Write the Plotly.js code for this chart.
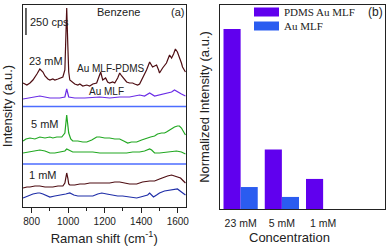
<!DOCTYPE html>
<html>
<head>
<meta charset="utf-8">
<script src="https://cdn.plot.ly/plotly-3.0.1.min.js"></script>
<style>html,body{margin:0;padding:0;background:#fff;}#chart{width:387px;height:250px;}</style>
</head>
<body>
<div id="chart"></div>
<script>
// ---- Panel (a): Raman spectra (intensity in arbitrary units, stacked offsets as read) ----
var pdms23_x = [753,774,791,807,829,845,862,873,889,900,916,927,944,954,971,982,987,992,998,1003,1009,1025,1036,1053,1064,1080,1102,1118,1135,1156,1167,1178,1189,1205,1216,1227,1244,1255,1271,1282,1293,1309,1320,1336,1353,1364,1380,1391,1402,1418,1429,1446,1462,1473,1484,1495,1500,1517,1527,1538,1555,1566,1577,1587,1598,1609,1620,1626,1637,1642];
var pdms23_y = [124,122,124,127,133,138,135,131,128,127,128,127,128,129,130,137,162,199,162,135,127,124,123,122,123,121,122,121,123,124,129,135,127,129,125,124,125,124,129,134,131,127,125,124,124,123,122,123,127,133,137,145,140,141,142,137,134,139,141,144,152,149,153,158,155,150,144,140,136,135];

var au23_x = [753,791,845,900,954,982,992,1003,1036,1091,1173,1227,1282,1336,1391,1418,1446,1473,1500,1538,1566,1582,1598,1620,1642];
var au23_y = [108,109,111,109,109,110,118,110,109,109,110,109,110,110,112,111,114,111,112,114,115,117,115,113,111];

var pdms5_x = [753,769,791,818,845,873,900,916,938,965,982,987,992,998,1003,1014,1025,1053,1080,1102,1129,1156,1173,1200,1227,1255,1282,1304,1326,1347,1375,1402,1429,1451,1473,1489,1511,1527,1538,1555,1566,1582,1598,1609,1620,1631,1642];
var pdms5_y = [66,68,69,68,70,69,70,69,70,70,74,82,92,82,74,68,66,66,65,65,67,70,70,69,69,68,68,66,64,65,65,67,69,70,71,73,74,74,75,77,79,80,81,81,79,76,72];

var au5_x = [753,791,818,845,873,900,927,965,982,992,1009,1025,1064,1102,1135,1173,1216,1266,1320,1353,1391,1418,1435,1446,1457,1473,1500,1538,1566,1593,1620,1642];
var au5_y = [54,55,56,57,56,54,54,55,56,58,56,55,55,55,55,54,54,54,54,55,55,56,57,58,57,54,54,55,56,56,55,53];

var pdms1_x = [753,774,791,818,845,873,900,916,944,971,982,987,992,998,1003,1009,1036,1064,1091,1118,1156,1173,1200,1227,1255,1282,1309,1336,1375,1407,1446,1473,1500,1527,1544,1566,1582,1598,1615,1631,1642];
var pdms1_y = [19,20,20,21,21,20,20,20,21,21,24,29,34,29,23,22,22,23,23,24,24,24,24,24,25,25,24,23,23,25,26,26,28,30,31,32,31,30,29,26,24];

var au1_x = [753,780,807,834,845,862,883,900,927,965,987,1009,1031,1053,1091,1135,1162,1184,1211,1244,1271,1298,1336,1375,1396,1418,1435,1446,1456,1467,1484,1500,1527,1555,1582,1598,1620,1642];
var au1_y = [9,11,13,14,14,13,11,10,11,12,13,14,12,11,11,11,13,14,13,12,11,11,10,9,10,11,12,14,12,10,12,14,16,17,18,18,15,12];

var separatorLevels = [100.5, 43];
var ramanRange = [750, 1645];
var ramanTicks = [800, 1000, 1200, 1400, 1600];
var scaleBar_x = [769, 769];
var scaleBar_y = [172, 199];

// ---- Panel (b): normalized intensity ----
var concentrations = ['23 mM', '5 mM', '1 mM'];
var seriesNames = ['PDMS Au MLF', 'Au MLF'];
var pdmsAuMLF = [1.0, 0.33, 0.167];
var auMLF = [0.122, 0.067, 0];

var cMaroon = '#4e0d12', cViolet = '#6a2ce6', cGreen = '#22a822', cNavy = '#1f2ea8', cSep = '#4d6dff';
var cBarP = '#6000ee', cBarB = '#2a5cf0';

function line(x, y, c) {
  return {x: x, y: y, type: 'scatter', mode: 'lines', line: {color: c, width: 1.2}, xaxis: 'x', yaxis: 'y', showlegend: false, hoverinfo: 'skip'};
}

var traces = [
  line(pdms23_x, pdms23_y, cMaroon),
  line(au23_x, au23_y, cViolet),
  line(pdms5_x, pdms5_y, cGreen),
  line(au5_x, au5_y, cGreen),
  line(pdms1_x, pdms1_y, cMaroon),
  line(au1_x, au1_y, cNavy)
];
separatorLevels.forEach(function (lv) {
  traces.push({x: ramanRange, y: [lv, lv], type: 'scatter', mode: 'lines', line: {color: cSep, width: 1.5}, xaxis: 'x', yaxis: 'y', showlegend: false, hoverinfo: 'skip'});
});
traces.push({x: scaleBar_x, y: scaleBar_y, type: 'scatter', mode: 'lines', line: {color: '#111', width: 1.3}, xaxis: 'x', yaxis: 'y', showlegend: false, hoverinfo: 'skip'});

traces.push({x: concentrations, y: pdmsAuMLF, type: 'bar', name: seriesNames[0], marker: {color: cBarP, line: {width: 0}}, xaxis: 'x2', yaxis: 'y2', showlegend: false});
traces.push({x: concentrations, y: auMLF, type: 'bar', name: seriesNames[1], marker: {color: cBarB, line: {width: 0}}, xaxis: 'x2', yaxis: 'y2', showlegend: false});

var W = 387, H = 250;
function px(x) { return x / W; }
function py(y) { return 1 - y / H; }
var sans = 'Liberation Sans, Arial, sans-serif';
var serif = 'Liberation Serif, Times New Roman, serif';
var tc = '#222';

function ann(text, x, y, size, opts) {
  var a = {text: text, x: px(x), y: py(y), xref: 'paper', yref: 'paper', showarrow: false,
    xanchor: 'center', yanchor: 'middle', font: {family: sans, size: size, color: tc}};
  for (var k in (opts || {})) a[k] = opts[k];
  return a;
}

var annotations = [
  ann('Benzene', 119, 12, 11),
  ann('(a)', 177, 12, 11),
  ann('250 cps', 28, 22, 11, {xanchor: 'left'}),
  ann('23 mM', 46, 61, 11),
  ann('Au MLF-PDMS', 111, 68, 10),
  ann('Au MLF', 106, 91, 10),
  ann('5 mM', 45, 124, 11),
  ann('1 mM', 43, 175, 11),
  ann('(b)', 375, 12, 12),
  ann('Concentration', 289, 237, 13),
  ann(seriesNames[0], 282, 12, 11, {xanchor: 'left', font: {family: serif, size: 11, color: tc}}),
  ann(seriesNames[1], 282, 26, 11, {xanchor: 'left', font: {family: serif, size: 11, color: tc}})
];

var shapes = [
  {type: 'rect', xref: 'paper', yref: 'paper', x0: px(254), x1: px(279), y0: py(16.5), y1: py(7.5), fillcolor: cBarP, line: {width: 0}},
  {type: 'rect', xref: 'paper', yref: 'paper', x0: px(254), x1: px(279), y0: py(30.5), y1: py(21.5), fillcolor: cBarB, line: {width: 0}}
];

var axLine = {showline: true, mirror: true, linecolor: '#222', linewidth: 1, showgrid: false, zeroline: false};

var layout = {
  width: W, height: H,
  margin: {l: 0, r: 0, t: 0, b: 0},
  paper_bgcolor: '#fff', plot_bgcolor: '#fff',
  showlegend: false,
  barmode: 'group', bargap: 0.17, bargroupgap: 0,
  font: {family: sans, color: tc},
  xaxis: Object.assign({}, axLine, {
    domain: [px(22.5), px(186)], range: ramanRange, anchor: 'y',
    tickmode: 'array', tickvals: ramanTicks, ticks: 'outside', ticklen: 5, tickwidth: 1, tickcolor: '#222',
    minor: {tickvals: [900, 1100, 1300, 1500], ticks: 'outside', ticklen: 3, tickwidth: 1, tickcolor: '#222'},
    tickfont: {family: sans, size: 10, color: tc},
    title: {text: 'Raman shift (cm<sup>-1</sup>)', font: {family: sans, size: 13, color: tc}, standoff: 7}
  }),
  yaxis: Object.assign({}, axLine, {
    domain: [py(207), py(5)], range: [0, 202], anchor: 'x',
    showticklabels: false, ticks: '',
    title: {text: 'Intensity (a.u.)', font: {family: sans, size: 13, color: tc}, standoff: 8}
  }),
  xaxis2: Object.assign({}, axLine, {
    domain: [px(220), px(385)], anchor: 'y2', type: 'category', range: [-0.5, 3.5],
    ticks: 'outside', ticklen: 4, tickcolor: 'rgba(0,0,0,0)', tickfont: {family: sans, size: 10.5, color: tc}
  }),
  yaxis2: Object.assign({}, axLine, {
    domain: [py(209), py(5)], range: [0, 1.133], anchor: 'x2',
    showticklabels: false, ticks: '',
    title: {text: 'Normalized Intensity (a.u.)', font: {family: sans, size: 13, color: tc}, standoff: 6}
  }),
  annotations: annotations,
  shapes: shapes
};

Plotly.newPlot('chart', traces, layout, {staticPlot: true, displayModeBar: false});
</script>
</body>
</html>
